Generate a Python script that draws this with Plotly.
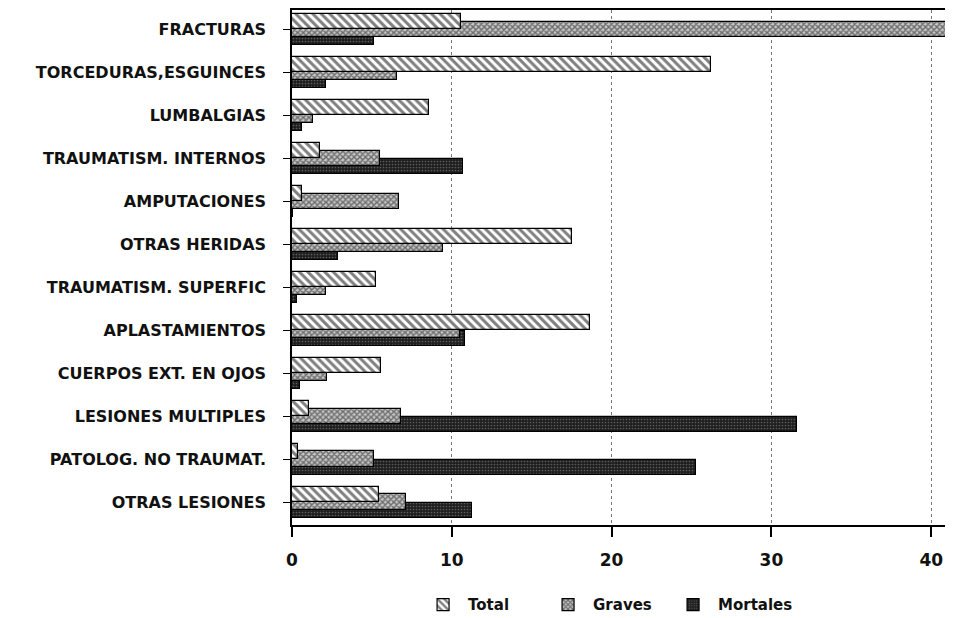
import plotly.graph_objects as go

categories = [
    "FRACTURAS",
    "TORCEDURAS,ESGUINCES",
    "LUMBALGIAS",
    "TRAUMATISM. INTERNOS",
    "AMPUTACIONES",
    "OTRAS HERIDAS",
    "TRAUMATISM. SUPERFIC",
    "APLASTAMIENTOS",
    "CUERPOS EXT. EN OJOS",
    "LESIONES MULTIPLES",
    "PATOLOG. NO TRAUMAT.",
    "OTRAS LESIONES",
]
total = [10.6, 26.2, 8.6, 1.75, 0.6, 17.5, 5.25, 18.65, 5.6, 1.05, 0.35, 5.45]
graves = [41.1, 6.6, 1.3, 5.5, 6.7, 9.45, 2.1, 10.5, 2.2, 6.8, 5.1, 7.15]
mortales = [5.1, 2.1, 0.6, 10.7, 0.05, 2.9, 0.3, 10.8, 0.5, 31.6, 25.3, 11.25]
x_ticks = [0, 10, 20, 30, 40]

FONT = "DejaVu Sans"
INK = "#111111"

fig = go.Figure()

fig.add_trace(go.Bar(
    name="Mortales", y=categories, x=mortales, orientation="h",
    offset=0.0, width=0.36, legendrank=3,
    marker=dict(color="#2a2a2a",
                line=dict(color="black", width=1.2),
                pattern=dict(shape=".", fgcolor="#9a9a9a", bgcolor="#1e1e1e",
                             size=3, solidity=0.25)),
))
fig.add_trace(go.Bar(
    name="Graves", y=categories, x=graves, orientation="h",
    offset=-0.19, width=0.35, legendrank=2,
    marker=dict(color="white",
                line=dict(color="black", width=1.2),
                pattern=dict(shape="x", fgcolor="#111111", bgcolor="#c8c8c8",
                             size=4, solidity=0.6)),
))
fig.add_trace(go.Bar(
    name="Total", y=categories, x=total, orientation="h",
    offset=-0.37, width=0.35, legendrank=1,
    marker=dict(color="white",
                line=dict(color="black", width=1.2),
                pattern=dict(shape="\\", fgcolor="black", bgcolor="white",
                             size=6, solidity=0.5)),
))

fig.update_layout(
    width=945, height=618,
    barmode="overlay",
    paper_bgcolor="white", plot_bgcolor="white",
    margin=dict(l=284, r=1, t=0, b=101),
    font=dict(family=FONT, color=INK, size=13),
    showlegend=True,
    legend=dict(orientation="h", x=0.191, y=-0.155, xanchor="left", yanchor="middle",
                font=dict(family=FONT, size=15, weight="bold", color=INK),
                traceorder="normal", entrywidth=70, itemwidth=40,
                bgcolor="rgba(0,0,0,0)"),
    bargap=0,
)

fig.update_xaxes(
    range=[0, 41.3], tickvals=x_ticks, ticktext=[str(v) for v in x_ticks],
    showgrid=True, gridcolor="#777777", griddash="dot", gridwidth=1,
    showline=True, linecolor="black", linewidth=1.5, mirror=True,
    ticks="outside", ticklen=10, tickwidth=1.5, tickcolor="black",
    tickfont=dict(family=FONT, size=17, weight="bold", color=INK),
    ticklabelstandoff=9, zeroline=False,
)
fig.update_yaxes(
    type="category", range=[11.52, -0.46],
    showgrid=False, showline=True, linecolor="black", linewidth=1.5,
    ticks="outside", ticklen=7, tickwidth=1.2, tickcolor="black",
    tickfont=dict(family=FONT, size=16, weight="bold", color=INK),
    ticklabelstandoff=14, zeroline=False,
)

fig.write_html("out.html")
